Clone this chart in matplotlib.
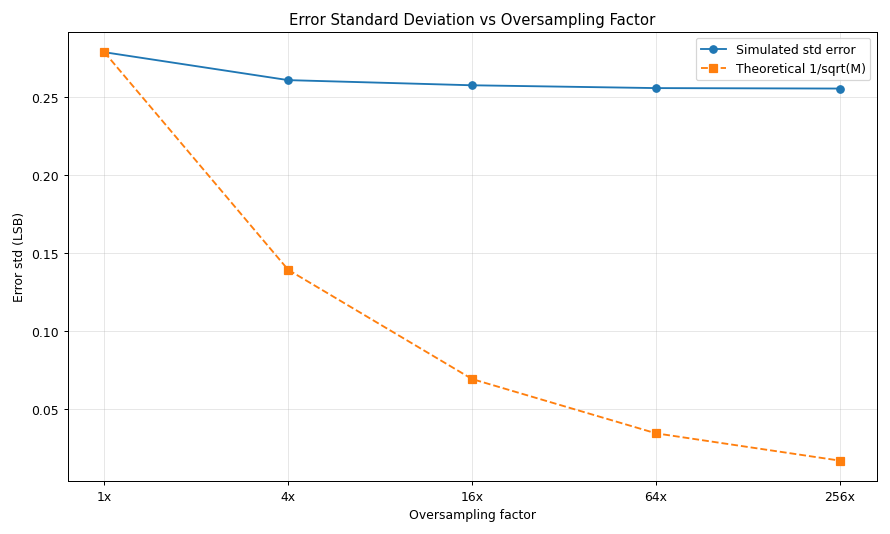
import matplotlib
matplotlib.use("Agg")
import matplotlib.pyplot as plt

factors = ["1x", "4x", "16x", "64x", "256x"]
simulated_std = [0.2789, 0.2610, 0.2577, 0.2559, 0.2556]
theoretical_std = [0.2789, 0.1394, 0.0694, 0.0346, 0.0171]

fig, ax = plt.subplots(figsize=(10, 6.011), dpi=89)
x = list(range(len(factors)))
ax.plot(x, simulated_std, marker="o", label="Simulated std error")
ax.plot(x, theoretical_std, marker="s", linestyle="--", label="Theoretical 1/sqrt(M)")
ax.set_xticks(x)
ax.set_xticklabels(factors)
ax.set_xlabel("Oversampling factor")
ax.set_ylabel("Error std (LSB)")
ax.set_title("Error Standard Deviation vs Oversampling Factor")
ax.grid(True, alpha=0.3)
ax.legend()
fig.tight_layout()
fig.savefig("out.png")
